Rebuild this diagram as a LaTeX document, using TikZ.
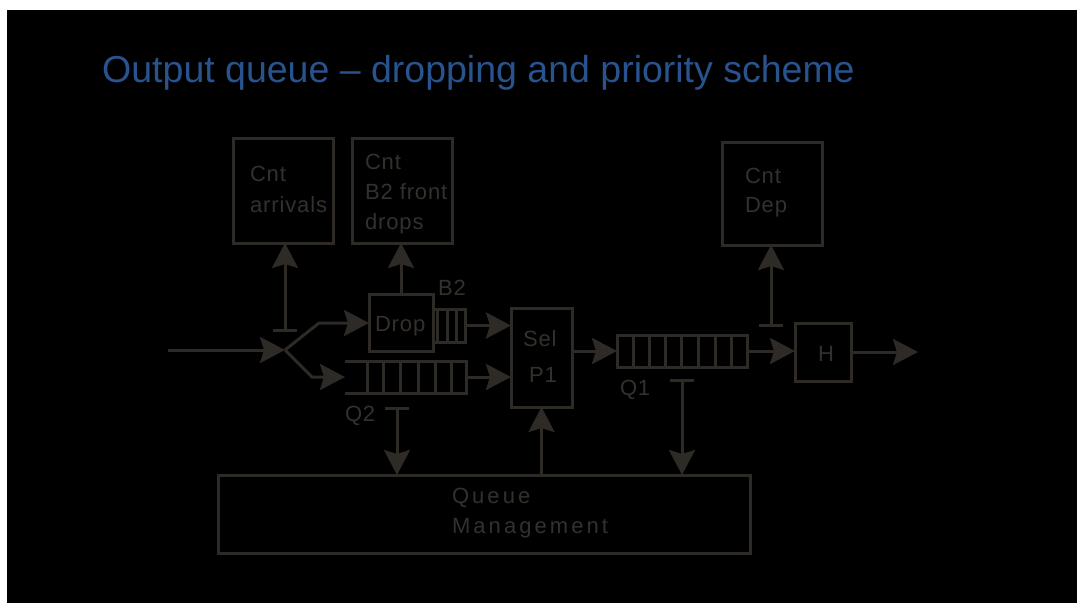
\documentclass[tikz,border=0pt]{standalone}
\usepackage{fontspec}
\setmainfont{Liberation Sans}
\usetikzlibrary{arrows.meta}
\definecolor{ln}{RGB}{46,43,39}
\definecolor{tx}{RGB}{52,49,45}
\definecolor{ttl}{RGB}{40,83,142}
\begin{document}
\begin{tikzpicture}[x=1pt,y=-1pt,
  box/.style={draw=ln,line width=3pt,inner sep=0pt,outer sep=0pt},
  spot/.style={inner sep=0pt,outer sep=0pt},
  qline/.style={draw=ln,line width=3pt},
  lbl/.style={anchor=base west,inner sep=0pt,outer sep=0pt,text=tx,
    font=\fontsize{22}{26}\selectfont\addfontfeature{LetterSpace=4}},
  biglbl/.style={lbl,font=\fontsize{22}{26}\selectfont\addfontfeature{LetterSpace=14}},
  tip/.tip={Stealth[length=25pt,width=26pt,inset=4pt]},
  conn/.style={draw=ln,line width=3pt,-tip},
  tconn/.style={draw=ln,line width=3pt,{Bar[width=24pt]}-tip}
]
\useasboundingbox (0,0) rectangle (1077,603);
\fill[white] (0,0) rectangle (1077,603);
\fill[black] (7,10) rectangle (1077,603);

\node[anchor=base west,inner sep=0pt,text=ttl,font=\fontsize{37.5}{42}\selectfont] (title) at (102,82)
  {Output queue – dropping and priority scheme};

% boxes
\node[box,minimum width=100pt,minimum height=105pt] (arr) at (283,190.5) {};
\node[box,minimum width=100pt,minimum height=105pt] (b2d) at (402,190.5) {};
\node[box,minimum width=100pt,minimum height=103pt] (dep) at (772,193.5) {};
\node[box,minimum width=64pt,minimum height=57pt] (drop) at (401,322.5) {};
\node[box,minimum width=61pt,minimum height=99pt] (sel) at (541.5,357.5) {};
\node[box,minimum width=56pt,minimum height=58pt] (H) at (823,352) {};
\node[box,minimum width=532pt,minimum height=78pt] (qm) at (484,514) {};

% queues
\node[spot,minimum width=121pt,minimum height=32pt] (q2) at (405.5,377) {};
\draw[qline] (345,361) -- (466,361) -- (466,393) -- (345,393);
\foreach \x in {367,383,400,418,435,451} \draw[qline] (\x,361) -- (\x,393);

\node[spot,minimum width=32pt,minimum height=33pt] (b2q) at (449,325.5) {};
\draw[qline] (433,309) -- (465,309) -- (465,342) -- (433,342);
\foreach \x in {437,447,456} \draw[qline] (\x,309) -- (\x,342);

\node[spot,minimum width=130pt,minimum height=32pt] (q1) at (682,351) {};
\draw[qline] (617,335) rectangle (747,367);
\foreach \x in {633,649,665,681,698,715,731} \draw[qline] (\x,335) -- (\x,367);

% texts
\node[lbl] (t1) at (250,181) {Cnt};
\node[lbl] (t2) at (250,212) {arrivals};
\node[lbl] (t3) at (365,169) {Cnt};
\node[lbl] (t4) at (365,199) {B2 front};
\node[lbl] (t5) at (365,229) {drops};
\node[lbl] (t6) at (745,183) {Cnt};
\node[lbl] (t7) at (745,212) {Dep};
\node[lbl] (t8) at (375,331) {Drop};
\node[lbl] (t9) at (438,295) {B2};
\node[lbl] (t10) at (345,421) {Q2};
\node[lbl] (t11) at (523,346) {Sel};
\node[lbl] (t12) at (529,382) {P1};
\node[lbl] (t13) at (620,395) {Q1};
\node[lbl] (t14) at (818,361) {H};
\node[biglbl] (t15) at (452,503) {Queue};
\node[biglbl] (t16) at (452,533) {Management};

% connectors
\coordinate (in) at (168,350);
\coordinate (j) at (285,350);
\coordinate (bu) at (319,323);
\coordinate (bl) at (312,377);
\coordinate (q2in) at (345,377);
\coordinate (ta) at (285,332);
\coordinate (td) at (771,327);
\coordinate (tq2) at (397,407);
\coordinate (tq1) at (682,379);
\coordinate (out) at (918,352);

\draw[conn] (in) -- (j);
\draw[conn] (j) -- (bu) -- (bu -| drop.west);
\draw[conn] (j) -- (bl) -- (q2in);
\draw[tconn] (ta) -- (ta |- arr.south);
\draw[conn] (drop.north) -- (drop.north |- b2d.south);
\draw[conn] (b2q.east) -- (b2q.east -| sel.west);
\draw[conn] (q2.east) -- (q2.east -| sel.west);
\draw[conn] (sel.east |- q1.west) -- (q1.west);
\draw[conn] (q1.east) -- (q1.east -| H.west);
\draw[conn] (H.east) -- (out);
\draw[tconn] (td) -- (td |- dep.south);
\draw[tconn] (tq2) -- (tq2 |- qm.north);
\draw[tconn] (tq1) -- (tq1 |- qm.north);
\draw[conn] (sel.south |- qm.north) -- (sel.south);
\end{tikzpicture}
\end{document}
